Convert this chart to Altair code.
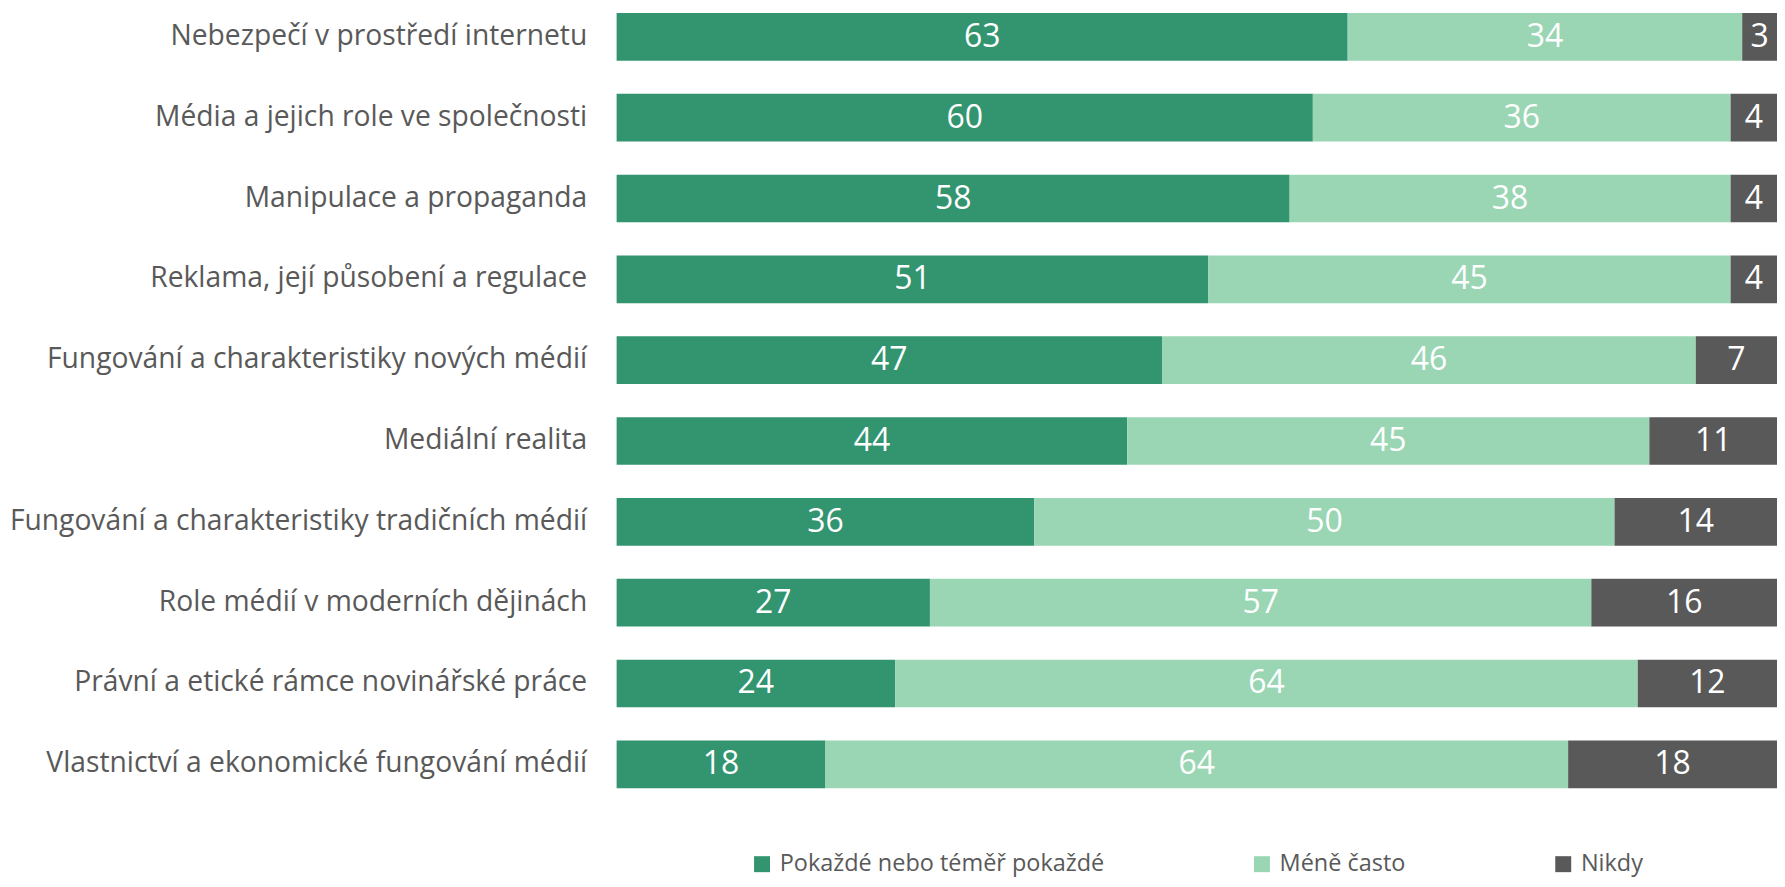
import altair as alt
import pandas as pd

categories = [
    "Nebezpečí v prostředí internetu",
    "Média a jejich role ve společnosti",
    "Manipulace a propaganda",
    "Reklama, její působení a regulace",
    "Fungování a charakteristiky nových médií",
    "Mediální realita",
    "Fungování a charakteristiky tradičních médií",
    "Role médií v moderních dějinách",
    "Právní a etické rámce novinářské práce",
    "Vlastnictví a ekonomické fungování médií",
]
series_names = ["Pokaždé nebo téměř pokaždé", "Méně často", "Nikdy"]
often = [63, 60, 58, 51, 47, 44, 36, 27, 24, 18]
less = [34, 36, 38, 45, 46, 45, 50, 57, 64, 64]
never = [3, 4, 4, 4, 7, 11, 14, 16, 12, 18]
colors = ["#339470", "#9AD6B4", "#595959"]

rows = []
for i, c in enumerate(categories):
    for j, (s, vals) in enumerate(zip(series_names, [often, less, never])):
        rows.append({"cat": c, "series": s, "order": j, "value": vals[i]})
df = pd.DataFrame(rows)

FONT = "Open Sans"

base = alt.Chart(df).transform_stack(
    stack="value", groupby=["cat"], as_=["x0", "x1"], sort=[alt.SortField("order")]
).transform_calculate(mid="(datum.x0 + datum.x1) / 2")

y_enc = alt.Y(
    "cat:N",
    sort=categories,
    title=None,
    scale=alt.Scale(paddingInner=0.41, paddingOuter=0.05),
    axis=alt.Axis(
        labelFont=FONT,
        labelFontSize=28.3,
        labelColor="#595959",
        ticks=False,
        domain=False,
        labelPadding=30,
        minExtent=604,
        maxExtent=604,
        labelLimit=700,
    ),
)

bars = base.mark_bar().encode(
    y=y_enc,
    x=alt.X("x0:Q", scale=alt.Scale(domain=[0, 100], nice=False), axis=None),
    x2="x1:Q",
    color=alt.Color(
        "series:N",
        sort=series_names,
        scale=alt.Scale(domain=series_names, range=colors),
        legend=alt.Legend(
            title=None,
            orient="none",
            direction="horizontal",
            legendX=134,
            legendY=845,
            symbolType="square",
            symbolSize=256,
            symbolStrokeWidth=0,
            labelFont=FONT,
            labelFontSize=23.5,
            labelColor="#595959",
            labelLimit=600,
            columnPadding=146,
            labelOffset=6,
            padding=0,
        ),
    ),
)

text = base.mark_text(color="white", fontSize=32, font=FONT).encode(
    y=alt.Y("cat:N", sort=categories),
    x=alt.X("mid:Q"),
    text=alt.Text("value:Q"),
)

chart = (
    alt.layer(bars, text)
    .properties(
        width=1163,
        height=785,
        padding={"left": 1, "top": 0, "right": 0, "bottom": 4},
    )
    .configure_view(stroke=None)
)

chart.save("out.html", embed_options={"renderer": "svg", "actions": False})
